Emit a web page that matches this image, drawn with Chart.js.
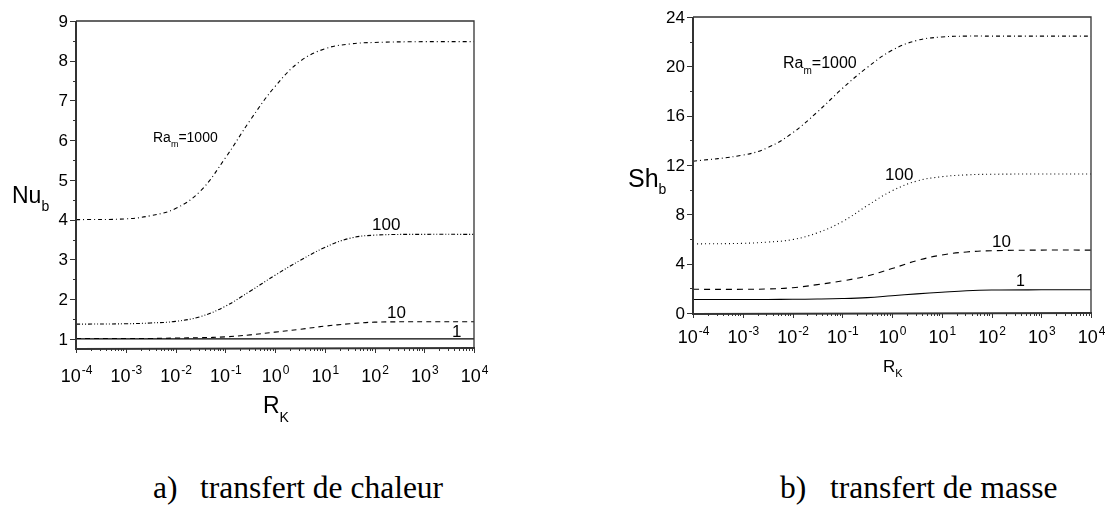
<!DOCTYPE html>
<html>
<head>
<meta charset="utf-8">
<script src="https://cdn.jsdelivr.net/npm/chart.js@4.4.1/dist/chart.umd.min.js"></script>
<style>
  body { margin: 0; background: #fff; width: 1105px; height: 512px; overflow: hidden; position: relative; }
  .box { position: absolute; top: 0; }
  .caption { position: absolute; font-family: "Liberation Serif", "Times New Roman", serif; font-size: 31.5px; color: #000; white-space: pre; }
</style>
</head>
<body>
<div class="box" style="left:0;width:560px;height:430px"><canvas id="graficoNu" width="560" height="430"></canvas></div>
<div class="box" style="left:560px;width:545px;height:430px"><canvas id="graficoSh" width="545" height="430"></canvas></div>
<div class="caption" style="left:153px;top:470px">a)</div>
<div class="caption" style="left:200px;top:470px">transfert de chaleur</div>
<div class="caption" style="left:780px;top:470px">b)</div>
<div class="caption" style="left:830px;top:470px">transfert de masse</div>
<script>
// valeurs de R_K (abscisse, échelle log)
var rK = [1e-4, 1e-3, 3.16e-3, 1e-2, 3.16e-2, 0.1, 0.316, 1, 3.16, 10, 31.6, 100, 1000, 10000];

// a) Nu_b pour Ra_m = 1000, 100, 10, 1
var nu1000 = [4.0, 4.02, 4.1, 4.28, 4.72, 5.55, 6.5, 7.35, 7.98, 8.3, 8.42, 8.46, 8.48, 8.48];
var nu100  = [1.37, 1.38, 1.4, 1.44, 1.56, 1.82, 2.2, 2.6, 2.97, 3.3, 3.53, 3.61, 3.63, 3.63];
var nu10   = [1.01, 1.01, 1.01, 1.02, 1.03, 1.05, 1.1, 1.17, 1.24, 1.32, 1.38, 1.42, 1.43, 1.43];
var nu1    = [1.0, 1.0, 1.0, 1.0, 1.0, 1.0, 1.0, 1.0, 1.0, 1.0, 1.0, 1.0, 1.0, 1.0];

// b) Sh_b pour Ra_m = 1000, 100, 10, 1
var sh1000 = [12.3, 12.8, 13.4, 14.6, 16.3, 18.2, 19.9, 21.3, 22.1, 22.38, 22.45, 22.45, 22.45, 22.45];
var sh100  = [5.6, 5.65, 5.75, 5.95, 6.5, 7.4, 8.7, 9.9, 10.7, 11.05, 11.2, 11.25, 11.27, 11.27];
var sh10   = [1.92, 1.92, 1.95, 2.05, 2.3, 2.6, 3.0, 3.6, 4.25, 4.7, 4.95, 5.05, 5.1, 5.1];
var sh1    = [1.1, 1.1, 1.1, 1.11, 1.13, 1.17, 1.25, 1.4, 1.55, 1.68, 1.8, 1.86, 1.88, 1.88];

// étiquettes
var expX = ['-4', '-3', '-2', '-1', '0', '1', '2', '3', '4'];
var ticksNu = [1, 2, 3, 4, 5, 6, 7, 8, 9];
var ticksSh = [0, 4, 8, 12, 16, 20, 24];

var SANS = '"Liberation Sans", Arial, sans-serif';

function serie(valori, dash) {
    return {
        data: rK.map(function (x, i) { return { x: x, y: valori[i] }; }),
        borderColor: '#000',
        borderWidth: 1.1,
        borderDash: dash,
        pointRadius: 0,
        tension: 0.4,
        fill: false
    };
}

// texte avec indice (ex. Nu_b)
function testoIndice(ctx, base, ind, x, y, size, sizeInd, dy) {
    ctx.font = size + 'px ' + SANS;
    ctx.textAlign = 'left';
    ctx.textBaseline = 'alphabetic';
    ctx.fillText(base, x, y);
    var w = ctx.measureText(base).width;
    ctx.font = sizeInd + 'px ' + SANS;
    ctx.fillText(ind, x + w, y + dy);
    return x + w + ctx.measureText(ind).width;
}

var decoPlugin = {
    id: 'deco',
    afterDraw: function (chart) {
        var o = chart.options.plugins.deco;
        var ctx = chart.ctx;
        var a = chart.chartArea;
        var sx = chart.scales.x, sy = chart.scales.y;
        ctx.save();
        ctx.fillStyle = '#000';
        ctx.strokeStyle = '#333';

        // cadre
        ctx.lineWidth = 1.3;
        ctx.beginPath();
        ctx.moveTo(a.left, a.top); ctx.lineTo(a.right, a.top); ctx.lineTo(a.right, a.bottom);
        ctx.stroke();
        ctx.lineWidth = 2;
        ctx.beginPath();
        ctx.moveTo(a.left, a.top); ctx.lineTo(a.left, a.bottom + 1); ctx.lineTo(a.right + 1, a.bottom);
        ctx.stroke();

        // graduations x (log)
        ctx.lineWidth = 1;
        ctx.beginPath();
        for (var e = -4; e <= 4; e++) {
            for (var m = 1; m <= 9; m++) {
                var v = m * Math.pow(10, e);
                if (v > 1e4 * 1.0001) break;
                var px = Math.round(sx.getPixelForValue(v)) + 0.5;
                var len = m === 1 ? 5 : 3;
                ctx.moveTo(px, a.bottom);
                ctx.lineTo(px, a.bottom + len);
            }
        }
        // graduations y
        for (var t = o.yMin; t <= o.yMax + 1e-9; t += o.yMinor) {
            var py = Math.round(sy.getPixelForValue(t)) + 0.5;
            var maj = Math.abs(t / o.yMajor - Math.round(t / o.yMajor)) < 1e-6;
            ctx.moveTo(a.left, py);
            ctx.lineTo(a.left - (maj ? 6 : 3), py);
        }
        ctx.stroke();

        // étiquettes y
        ctx.font = '17px ' + SANS;
        ctx.textAlign = 'right';
        ctx.textBaseline = 'middle';
        o.yTicks.forEach(function (t) {
            ctx.fillText(String(t), a.left - 8, sy.getPixelForValue(t) + 1);
        });

        // étiquettes x : 10^n
        expX.forEach(function (s) {
            var px = sx.getPixelForValue(Math.pow(10, Number(s)));
            ctx.font = '18px ' + SANS;
            var w1 = ctx.measureText('10').width;
            ctx.font = '12px ' + SANS;
            var w2 = ctx.measureText(s).width;
            var x0 = px - (w1 + w2) / 2;
            ctx.textAlign = 'left';
            ctx.textBaseline = 'alphabetic';
            ctx.font = '18px ' + SANS;
            ctx.fillText('10', x0, a.bottom + o.xLabDy);
            ctx.font = '12px ' + SANS;
            ctx.fillText(s, x0 + w1 + 1, a.bottom + o.xLabDy - 8);
        });

        // titres des axes
        var ty = o.yTitle;
        testoIndice(ctx, ty.base, ty.ind, ty.x, ty.y, ty.size, ty.sizeInd, ty.dy);
        var tx = o.xTitle;
        testoIndice(ctx, tx.base, tx.ind, tx.x, tx.y, tx.size, tx.sizeInd, tx.dy);

        // légendes des courbes
        o.notes.forEach(function (n) {
            if (n.ind) {
                var xe = testoIndice(ctx, n.base, n.ind, n.x, n.y, n.size, n.sizeInd, n.dy);
                ctx.font = n.size + 'px ' + SANS;
                ctx.fillText(n.tail, xe, n.y);
            } else {
                ctx.font = n.size + 'px ' + SANS;
                ctx.textAlign = 'left';
                ctx.textBaseline = 'alphabetic';
                ctx.fillText(n.base, n.x, n.y);
            }
        });
        ctx.restore();
    }
};

function creaGrafico(id, datasets, yMin, yMax, dimY, dimX, padRight, padTop, deco) {
    return new Chart(document.getElementById(id), {
        type: 'line',
        data: { datasets: datasets },
        plugins: [decoPlugin],
        options: {
            responsive: false,
            animation: false,
            events: [],
            layout: { padding: { left: 0, right: padRight, top: padTop, bottom: 0 } },
            plugins: { legend: { display: false }, tooltip: { enabled: false }, deco: deco },
            scales: {
                x: {
                    type: 'logarithmic', min: 1e-4, max: 1e4,
                    ticks: { display: false }, grid: { display: false }, border: { display: false },
                    afterFit: function (s) { s.height = dimX; }
                },
                y: {
                    type: 'linear', min: yMin, max: yMax,
                    ticks: { display: false }, grid: { display: false }, border: { display: false },
                    afterFit: function (s) { s.width = dimY; }
                }
            }
        }
    });
}

// a) transfert de chaleur
creaGrafico('graficoNu', [
    serie(nu1000, [4, 3, 1, 3]),
    serie(nu100, [4, 2, 1, 2, 1, 2]),
    serie(nu10, [5, 4]),
    serie(nu1, [])
], 0.77, 9, 76, 82, 86, 21, {
    yMin: 1, yMax: 9, yMinor: 0.5, yMajor: 1, yTicks: ticksNu, xLabDy: 34,
    yTitle: { base: 'Nu', ind: 'b', x: 12, y: 203, size: 23, sizeInd: 14, dy: 8 },
    xTitle: { base: 'R', ind: 'K', x: 263, y: 413, size: 23, sizeInd: 14, dy: 9 },
    notes: [
        { base: 'Ra', ind: 'm', tail: '=1000', x: 153, y: 142, size: 14, sizeInd: 9, dy: 5 },
        { base: '100', x: 372, y: 230, size: 17 },
        { base: '10', x: 387, y: 318, size: 17 },
        { base: '1', x: 452, y: 337, size: 17 }
    ]
});

// b) transfert de masse
creaGrafico('graficoSh', [
    serie(sh1000, [4, 3, 1, 3]),
    serie(sh100, [1, 3]),
    serie(sh10, [6, 5]),
    serie(sh1, [])
], 0, 24, 133, 117, 14, 17, {
    yMin: 0, yMax: 24, yMinor: 2, yMajor: 4, yTicks: ticksSh, xLabDy: 30,
    yTitle: { base: 'Sh', ind: 'b', x: 68, y: 187, size: 25, sizeInd: 14, dy: 7 },
    xTitle: { base: 'R', ind: 'K', x: 323, y: 372, size: 17, sizeInd: 11, dy: 5 },
    notes: [
        { base: 'Ra', ind: 'm', tail: '=1000', x: 223, y: 68, size: 16, sizeInd: 10, dy: 6 },
        { base: '100', x: 325, y: 180, size: 17 },
        { base: '10', x: 432, y: 247, size: 17 },
        { base: '1', x: 456, y: 286, size: 16 }
    ]
});
</script>
</body>
</html>
